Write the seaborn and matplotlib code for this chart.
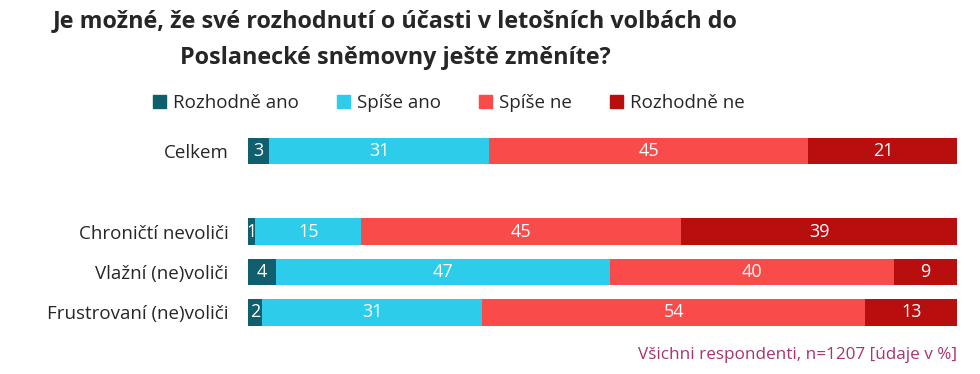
import matplotlib.pyplot as plt
import matplotlib.patches as mpatches
import pandas as pd
import seaborn as sns

groups = ["Celkem", "Chroničtí nevoliči", "Vlažní (ne)voliči", "Frustrovaní (ne)voliči"]
series = ["Rozhodně ano", "Spíše ano", "Spíše ne", "Rozhodně ne"]
rozhodne_ano = [3, 1, 4, 2]
spise_ano = [31, 15, 47, 31]
spise_ne = [45, 45, 40, 54]
rozhodne_ne = [21, 39, 9, 13]
colors = ["#0f5f6e", "#2dcceb", "#fa4b4b", "#b90e0e"]

df = pd.DataFrame({"group": groups, "Rozhodně ano": rozhodne_ano, "Spíše ano": spise_ano,
                   "Spíše ne": spise_ne, "Rozhodně ne": rozhodne_ne})
order = [groups[0], " ", groups[1], groups[2], groups[3]]

sns.set_theme(style="white")
plt.rcParams['font.family'] = ['Open Sans', 'DejaVu Sans']

fig = plt.figure(figsize=(9.8, 3.74), dpi=100)
ax = fig.add_axes([0.253, 0.111, 0.724, 0.539])

# stacked bars: draw cumulative totals from the largest down
cum = df[series].cumsum(axis=1)
for s, c in reversed(list(zip(series, colors))):
    sns.barplot(x=cum[s], y=df["group"], order=order, color=c, width=0.66,
                orient="h", ax=ax, saturation=1, linewidth=0)

# value labels
pos = {g: order.index(g) for g in groups}
for i, g in enumerate(groups):
    left = 0
    for s in series:
        v = df.loc[i, s]
        ax.text(left + v / 2, pos[g], str(v), ha="center", va="center",
                color="white", fontsize=13)
        left += v

ax.set_xlim(0, 100)
ax.set_ylim(4.5, -0.5)
ax.set_xlabel("")
ax.set_ylabel("")
ax.set_xticks([])
ax.tick_params(axis="y", length=0, labelsize=13.5, pad=14, labelcolor="#262626")
for sp in ax.spines.values():
    sp.set_visible(False)

fig.text(0.403, 0.895, "Je možné, že své rozhodnutí o účasti v letošních volbách do\nPoslanecké sněmovny ještě změníte?",
         ha="center", va="center", fontsize=16.8, fontweight="bold", color="#262626",
         linespacing=1.7)

handles = [mpatches.Patch(color=c, label=s) for s, c in zip(series, colors)]
fig.legend(handles=handles, loc="center", bbox_to_anchor=(0.458, 0.725), ncol=4,
           frameon=False, fontsize=13.5, handlelength=0.7, handleheight=0.7,
           handletextpad=0.4, columnspacing=2.0)

fig.text(0.977, 0.05, "Všichni respondenti, n=1207 [údaje v %]", ha="right", va="center",
         fontsize=12.3, color="#a8336e")

fig.savefig("out.png", dpi=100)
